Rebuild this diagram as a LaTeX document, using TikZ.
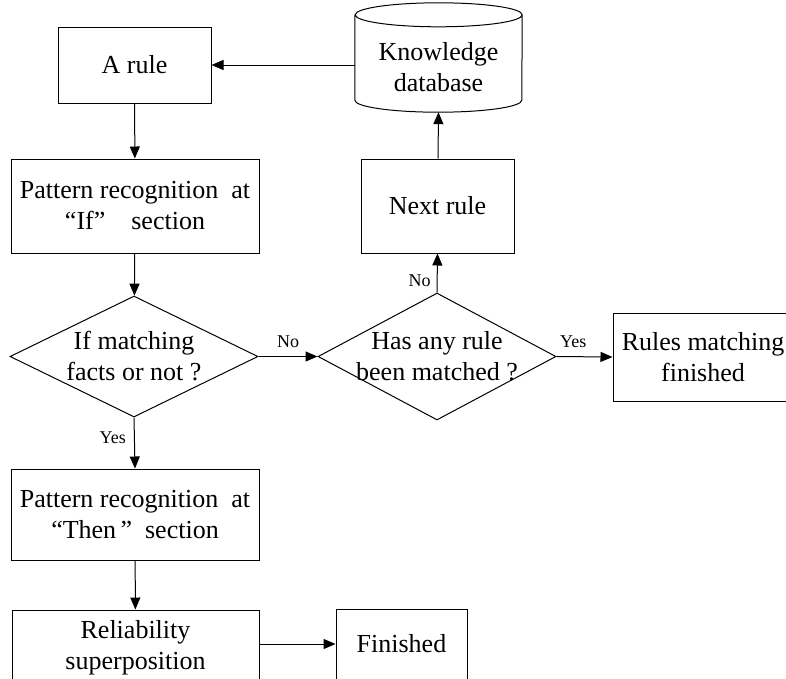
\documentclass[tikz,border=0pt]{standalone}
\usepackage{fontspec}
\setmainfont{Liberation Serif}
\usetikzlibrary{positioning,shapes.geometric,arrows.meta}

\begin{document}
\begin{tikzpicture}[x=1pt,y=-1pt,
  every node/.style={font=\fontsize{26}{31}\selectfont,align=center,inner sep=0pt},
  box/.style={draw,line width=1pt},
  cond/.style={draw,diamond,aspect=2,inner sep=-10pt,line width=1pt},
  lbl/.style={font=\fontsize{18}{20}\selectfont},
  flow/.style={draw,line width=1pt,-{Triangle[length=12pt,width=10pt]}}]
\clip (0,0) rectangle (786,678);
\useasboundingbox (0,0) rectangle (786,678);
\node at(134.5,65)[box,minimum width=153,minimum height=76](arule){A rule};
\node at(135,206)[box,minimum width=248,minimum height=94](ifsec){Pattern recognition\ \ at\\“If”\hspace{1em}section};
\node at(134,356.5)[cond,minimum width=248,minimum height=121](match){If matching\\facts or not ?};
\node at(135,514.5)[box,minimum width=248,minimum height=91](thensec){Pattern recognition\ \ at\\“Then\,”\hspace{0.5em}section};
\node at(135.5,648)[box,minimum width=247,minimum height=76](rel){Reliability\\superposition};
\node at(401.5,644)[box,minimum width=131,minimum height=70](fin){Finished};
\node at(437,356.5)[cond,minimum width=238,minimum height=127](anyrule){Has any rule\\been matched ?};
\node at(703,357)[box,minimum width=180,minimum height=88](rmf){Rules matching\\finished};
\node at(437.5,206)[box,minimum width=153,minimum height=94](nxt){Next rule};
\node at(438.5,67)[minimum width=167,minimum height=90](kdb){Knowledge\\database};
\draw[line width=1pt] ([yshift=7pt]kdb.north west) -- ([yshift=12pt]kdb.south west)
  arc[start angle=180,end angle=360,x radius=83.5pt,y radius=12pt]
  -- ([yshift=7pt]kdb.north east)
  arc[start angle=0,end angle=360,x radius=83.5pt,y radius=12pt];
\draw[flow] (kdb.west |- arule.east) -- (arule.east);
\draw[flow] (arule) -- (ifsec);
\draw[flow] (ifsec) -- (match);
\draw[flow] (match.east) -- node[lbl,midway,above=8pt]{No} (anyrule.west);
\draw[flow] (anyrule.east) -- node[lbl,pos=0.3,above=8pt]{Yes} (rmf.west);
\draw[flow] (anyrule.north) -- node[lbl,pos=0.3,left=6pt]{No} (nxt.south);
\draw[flow] (nxt) -- (kdb.south);
\draw[flow] (match.south) -- node[lbl,pos=0.4,left=8pt]{Yes} (thensec.north);
\draw[flow] (thensec) -- (rel);
\draw[flow] (rel.east |- fin.west) -- (fin.west);
\end{tikzpicture}
\end{document}
